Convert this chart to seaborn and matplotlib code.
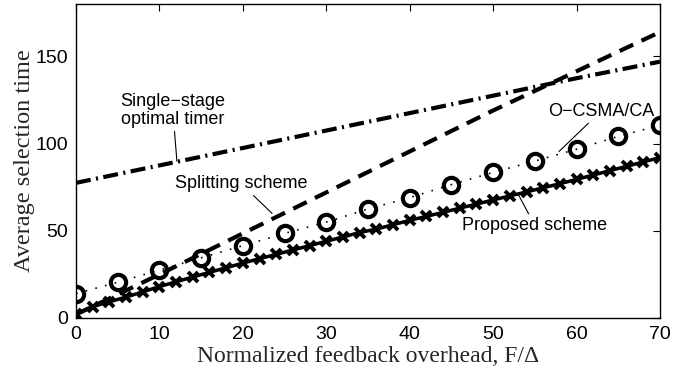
import matplotlib
matplotlib.use("Agg")
import matplotlib.pyplot as plt
import seaborn as sns
import pandas as pd

# Proposed scheme (markers every 2 units of F/Delta)
x_proposed = list(range(0, 71, 2))
y_proposed = [2.5, 6.5, 9.3, 12.0, 15.0, 18.0, 20.8, 23.5, 26.2, 28.8,
              31.5, 34.0, 36.5, 39.0, 41.5, 44.0, 46.5, 49.0, 51.0, 53.5,
              56.0, 58.3, 60.6, 63.0, 65.3, 67.7, 70.0, 72.3, 74.7, 77.0,
              79.5, 82.0, 84.5, 87.0, 89.5, 92.0]

# O-CSMA/CA (markers every 5 units)
x_ocsma = list(range(0, 71, 5))
y_ocsma = [14.0, 20.5, 27.5, 34.5, 41.5, 48.5, 55.0, 62.5, 69.0, 76.5,
           83.5, 90.0, 96.8, 104.2, 110.5]

# Splitting scheme
x_split = [0, 10, 20, 30, 40, 50, 60, 70]
y_split = [2.0, 25.0, 48.5, 72.0, 95.5, 119.0, 141.5, 164.0]

# Single-stage optimal timer
x_single = [0, 10, 20, 30, 40, 50, 60, 70]
y_single = [77.5, 87.5, 97.5, 107.5, 117.5, 127.5, 137.5, 147.0]

x_ticks = [0, 10, 20, 30, 40, 50, 60, 70]
y_ticks = [0, 50, 100, 150]

sns.set_style("white")
plt.rcParams["font.family"] = ["Liberation Sans", "DejaVu Sans"]

fig = plt.figure(figsize=(6.94, 3.75), dpi=100)
ax = fig.add_axes([0.1095, 0.152, 0.8415, 0.837])

df_single = pd.DataFrame({"x": x_single, "y": y_single})
df_split = pd.DataFrame({"x": x_split, "y": y_split})
df_ocsma = pd.DataFrame({"x": x_ocsma, "y": y_ocsma})
df_prop = pd.DataFrame({"x": x_proposed, "y": y_proposed})

sns.lineplot(data=df_single, x="x", y="y", ax=ax, color="black", lw=3,
             estimator=None, sort=False)
ax.lines[-1].set_dashes([3.6, 1.3, 0.5, 1.3])

sns.lineplot(data=df_split, x="x", y="y", ax=ax, color="black", lw=3,
             estimator=None, sort=False)
ax.lines[-1].set_dashes([3.6, 2.2])

sns.lineplot(data=df_ocsma, x="x", y="y", ax=ax, color="black", lw=1.2,
             marker="o", markersize=11, markerfacecolor="none",
             markeredgecolor="black", markeredgewidth=3,
             estimator=None, sort=False)
ax.lines[-1].set_dashes([1, 5])

sns.lineplot(data=df_prop, x="x", y="y", ax=ax, color="black", lw=2.5,
             marker="x", markersize=6.5, markeredgewidth=2.8,
             markeredgecolor="black", estimator=None, sort=False)

ax.set_xlim(0, 70)
ax.set_ylim(0, 180)
ax.set_xticks(x_ticks)
ax.set_yticks(y_ticks)
ax.tick_params(direction="in", length=5, width=0.8, top=True, right=True,
               labelsize=14, pad=6, colors="black")
for s in ax.spines.values():
    s.set_visible(True)
    s.set_color("black")
    s.set_linewidth(1.0)

serif = ["Liberation Serif", "DejaVu Serif"]
ax.set_xlabel("Normalized feedback overhead, F/\u0394", fontsize=17,
              family=serif, labelpad=2)
ax.set_ylabel("Average selection time", fontsize=17.5, family=serif,
              labelpad=0)

ann = dict(fontsize=13, color="black", ha="center", va="center")
line = dict(arrowstyle="-", color="black", lw=0.8, shrinkA=0, shrinkB=0)
ax.annotate("Single\u2212stage\noptimal timer", xy=(12.1, 89.8),
            xytext=(11.6, 119), textcoords="data", linespacing=1.1,
            **ann, arrowprops=line)
ax.annotate("Splitting scheme", xy=(23.5, 60), xytext=(19.8, 77),
            **ann, arrowprops=line)
ax.annotate("O\u2212CSMA/CA", xy=(57.9, 95.5), xytext=(62.9, 118.5),
            **ann, arrowprops=line)
ax.annotate("Proposed scheme", xy=(53, 71), xytext=(55, 53),
            **ann, arrowprops=line)

fig.savefig("out.png", dpi=100)
